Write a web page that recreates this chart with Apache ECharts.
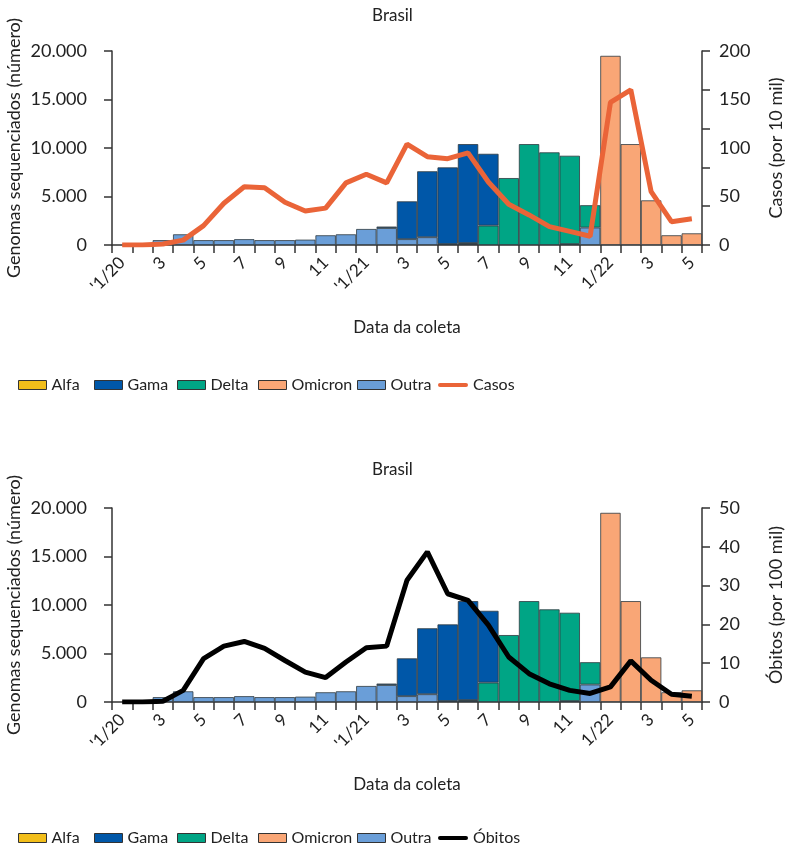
<!DOCTYPE html>
<html><head><meta charset="utf-8">
<script src="https://cdn.jsdelivr.net/npm/echarts@6/dist/echarts.min.js"></script>
<style>html,body{margin:0;padding:0;background:#fff}#c{width:785px;height:847px}</style>
</head><body><div id="c"></div>
<script>
const months = ["'1/20","2","3","4","5","6","7","8","9","10","11","12",
  "'1/21","2","3","4","5","6","7","8","9","10","11","12",
  "1/22","2","3","4","5"];
const outra   = [null,null,500,1100,500,500,600,500,500,550,1000,1100,1650,1750,600,800,100,100,null,null,null,null,null,1800,null,null,null,null,null];
const omicron = [null,null,null,null,null,null,null,null,null,null,null,null,null,null,null,null,null,null,null,null,null,null,100,null,19500,10400,4600,1000,1200];
const delta   = [null,null,null,null,null,null,null,null,null,null,null,null,null,null,null,null,null,100,2000,6900,10400,9550,9100,2300,null,null,null,null,null];
const gama    = [null,null,null,null,null,null,null,null,null,null,null,null,null,150,3900,6800,7900,10200,7400,null,null,null,null,null,null,null,null,null,null];
const alfa    = [null,null,null,null,null,null,null,null,null,null,null,null,null,null,null,null,null,null,null,null,null,null,null,null,null,null,null,null,null];
const casos   = [0,0,1,5,20,43,60,59,44,35,38,64,73,64,104,91,89,95,65,42,31,19,14,9,147,160,55,24,27];
const obitos  = [0,0,0.2,3,11.2,14.4,15.6,13.8,10.7,7.7,6.3,10.3,14.0,14.4,31.4,38.7,27.9,26.2,19.8,11.6,7.3,4.7,3.0,2.2,3.9,10.6,5.6,2.0,1.5];

const FONT = 'Lato';
const TXT = '#222';
const AX = '#333';
const colors = {Alfa:'#F2BE1A', Gama:'#0057A8', Delta:'#00A585', Omicron:'#F9A676', Outra:'#6A9ED8'};
const fmt = v => v === 0 ? '0' : String(v).replace(/\B(?=(\d{3})+(?!\d))/g, '.');

const gridTop = [51, 508];
const H = 194;

function xAxis(i){
  return {type:'category', gridIndex:i, data:months, boundaryGap:true,
    name:'Data da coleta', nameLocation:'middle', nameGap:74,
    nameTextStyle:{fontFamily:FONT, fontSize:17, color:TXT},
    axisLine:{lineStyle:{color:AX, width:1.5}},
    axisTick:{show:true, interval:0, length:8, lineStyle:{color:AX, width:1.5}},
    axisLabel:{interval:1, rotate:45, fontFamily:FONT, fontSize:17, color:TXT, margin:15}};
}
function leftY(i){
  return {type:'value', gridIndex:i, position:'left', min:0, max:20000, interval:5000,
    name:'Genomas sequenciados (número)', nameLocation:'middle', nameGap:89, nameMoveOverlap:false,
    nameTextStyle:{fontFamily:FONT, fontSize:18, color:TXT},
    axisLine:{show:true, lineStyle:{color:AX, width:1.5}},
    axisTick:{show:true, length:8, lineStyle:{color:AX, width:1.5}},
    splitLine:{show:false},
    axisLabel:{formatter:fmt, fontFamily:FONT, fontSize:18, color:TXT, margin:25}};
}
const yAxes = [
  leftY(0),
  {type:'value', gridIndex:0, position:'right', min:0, max:200, interval:50,
    name:'Casos (por 10 mil)', nameLocation:'middle', nameGap:65,
    nameTextStyle:{fontFamily:FONT, fontSize:18, color:TXT},
    axisLine:{show:true, lineStyle:{color:AX, width:1.5}},
    axisTick:{show:false}, splitLine:{show:false},
    axisLabel:{fontFamily:FONT, fontSize:18, color:TXT, margin:17}},
  {type:'value', gridIndex:0, position:'right', min:0, max:200, interval:40,
    axisLine:{show:false}, axisLabel:{show:false}, splitLine:{show:false},
    axisTick:{show:true, length:8, lineStyle:{color:AX, width:1.5}}},
  leftY(1),
  {type:'value', gridIndex:1, position:'right', min:0, max:50, interval:10,
    name:'Óbitos (por 100 mil)', nameLocation:'middle', nameGap:65,
    nameTextStyle:{fontFamily:FONT, fontSize:18, color:TXT},
    axisLine:{show:true, lineStyle:{color:AX, width:1.5}},
    axisTick:{show:true, length:8, lineStyle:{color:AX, width:1.5}}, splitLine:{show:false},
    axisLabel:{fontFamily:FONT, fontSize:18, color:TXT, margin:17}}
];

function bars(i, yIdx){
  const order = [['Outra',outra],['Omicron',omicron],['Delta',delta],['Gama',gama],['Alfa',alfa]];
  return order.map(([n,d]) => ({
    name:n, type:'bar', xAxisIndex:i, yAxisIndex:yIdx, stack:'s'+i, data:d,
    barCategoryGap:'0%', barGap:'0%',
    itemStyle:{color:colors[n], borderColor:'#2f3a40', borderWidth:0.8},
    emphasis:{disabled:true}
  }));
}

const series = [
  ...bars(0,0),
  {name:'Casos', type:'line', xAxisIndex:0, yAxisIndex:1, data:casos, symbol:'none',
    lineStyle:{color:'#EA6438', width:5}, itemStyle:{color:'#EA6438'}, z:5},
  ...bars(1,3),
  {name:'Óbitos', type:'line', xAxisIndex:1, yAxisIndex:4, data:obitos, symbol:'none',
    lineStyle:{color:'#000', width:5}, itemStyle:{color:'#000'}, z:5}
];

const legendNames = ['Alfa','Gama','Delta','Omicron','Outra'];
const legendLeft = [13, 89, 172, 253, 352, 433];
function legends(top, last){
  const out = legendNames.map((n,k) => ({
    top:top, left:legendLeft[k], itemWidth:28, itemHeight:9, selectedMode:false,
    textStyle:{fontFamily:FONT, fontSize:16, color:TXT},
    data:[{name:n, icon:'rect', itemStyle:{borderColor:'#333', borderWidth:1}}]}));
  out.push({top:top, left:legendLeft[5], itemWidth:30, itemHeight:9, selectedMode:false,
    textStyle:{fontFamily:FONT, fontSize:16, color:TXT},
    data:[{name:last, icon:'path://M2,0 L28,0 A2,2 0 0 1 28,4 L2,4 A2,2 0 0 1 2,0 Z', itemStyle:{borderWidth:0}}]});
  return out;
}

const chart = echarts.init(document.getElementById('c'));
chart.setOption({
  animation:false,
  backgroundColor:'#fff',
  title:[
    {text:'Brasil', left:'center', top:2, textStyle:{fontFamily:FONT, fontSize:17, fontWeight:'normal', color:TXT}},
    {text:'Brasil', left:'center', top:456, textStyle:{fontFamily:FONT, fontSize:17, fontWeight:'normal', color:TXT}}
  ],
  legend:[...legends(372,'Casos'), ...legends(825,'Óbitos')],
  grid:[
    {left:112, right:83, top:gridTop[0], height:H, outerBoundsMode:'none', containLabel:false},
    {left:112, right:83, top:gridTop[1], height:H, outerBoundsMode:'none', containLabel:false}
  ],
  xAxis:[xAxis(0), xAxis(1)],
  yAxis:yAxes,
  series:series
});
</script></body></html>
